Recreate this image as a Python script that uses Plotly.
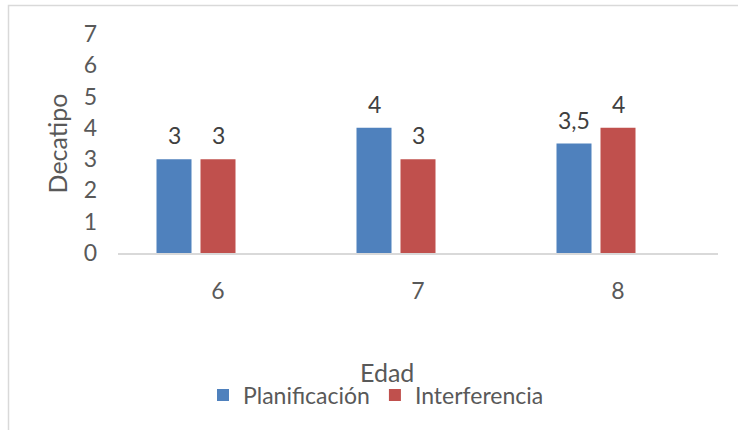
import plotly.graph_objects as go

categories = ["6", "7", "8"]
planificacion = [3, 4, 3.5]
interferencia = [3, 3, 4]
series_names = ["Planificación", "Interferencia"]
y_ticks = [0, 1, 2, 3, 4, 5, 6, 7]

colors = ["#4F81BD", "#C0504D"]
FONT = "Lato"
TXT = "#595959"

W, H = 738, 430
ML, MR, MT, MB = 118, 20, 34, 177

bar_w = 0.175
offsets = [-0.3075, -0.0875]

fig = go.Figure()
for name, vals, col, off in zip(series_names, [planificacion, interferencia], colors, offsets):
    fig.add_trace(go.Bar(
        x=categories, y=vals, name=name, marker_color=col,
        marker_line_width=0, width=bar_w, offset=off,
    ))
    for i, v in enumerate(vals):
        fig.add_annotation(
            x=i + off + bar_w / 2, y=v, xref="x", yref="y",
            text=str(v).replace(".", ","), showarrow=False,
            yanchor="middle", yshift=24,
            font=dict(family=FONT, size=23, color="#404040"),
        )

pw = W - ML - MR
ph = H - MT - MB

def px_x(p):
    return (p - ML) / pw

def px_y(p):
    return (H - MB - p) / ph

fig.add_annotation(
    text="Edad", xref="paper", yref="paper", x=px_x(387), y=px_y(372),
    showarrow=False, xanchor="center", yanchor="middle",
    font=dict(family=FONT, size=25, color=TXT),
)

fig.add_shape(
    type="rect", xref="paper", yref="paper",
    x0=px_x(8.5), x1=px_x(W + 5), y0=px_y(H + 5), y1=px_y(5.5),
    line=dict(color="#D9D9D9", width=1.5), fillcolor="rgba(0,0,0,0)", layer="below",
)

fig.update_layout(
    width=W, height=H,
    margin=dict(l=ML, r=MR, t=MT, b=MB),
    paper_bgcolor="white", plot_bgcolor="white",
    barmode="overlay",
    font=dict(family=FONT, color=TXT),
    showlegend=True,
    legend=dict(
        orientation="h", x=px_x(376), y=px_y(395), xanchor="center", yanchor="middle",
        font=dict(family=FONT, size=23, color=TXT), itemwidth=30,
        bgcolor="rgba(0,0,0,0)",
    ),
    xaxis=dict(
        type="category", showgrid=False, showline=True, linecolor="#D9D9D9", linewidth=2,
        ticks="", tickfont=dict(family=FONT, size=23, color=TXT), zeroline=False,
        ticklabelstandoff=16,
    ),
    yaxis=dict(
        range=[0, 7], tickvals=y_ticks, showgrid=False, showline=False, zeroline=False,
        ticks="", tickfont=dict(family=FONT, size=23, color=TXT),
        ticklabelstandoff=20,
        title=dict(text="Decatipo", font=dict(family=FONT, size=25, color=TXT), standoff=8),
    ),
)

fig.write_html("out.html")
